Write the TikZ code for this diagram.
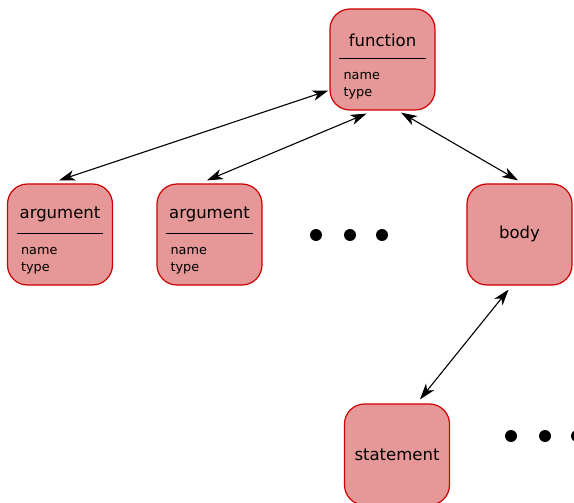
\documentclass[tikz,border=0pt]{standalone}
\usepackage{fontspec}
\setmainfont{DejaVu Sans}
\usetikzlibrary{arrows.meta,calc}
\definecolor{boxfill}{RGB}{229,152,151}
\definecolor{boxdraw}{RGB}{204,0,0}
\tikzset{
  umlbox/.style={draw=boxdraw, fill=boxfill, line width=1.2pt, rounded corners=20pt,
    minimum width=105pt, minimum height=101pt, inner sep=0pt},
  titletext/.style={font=\fontsize{16.5}{18}\selectfont, inner sep=0pt},
  attrtext/.style={font=\fontsize{12.8}{14}\selectfont, inner sep=0pt, anchor=west},
  biarrow/.style={{Stealth[length=16pt,width=10.5pt,inset=4.5pt]}-{Stealth[length=16pt,width=10.5pt,inset=4.5pt]}, line width=1.1pt, black},
  dot/.style={circle, fill=black, minimum size=12pt, inner sep=0pt}
}
\begin{document}
\begin{tikzpicture}[x=1pt,y=-1pt]
\useasboundingbox (0,0) rectangle (574,503);
\clip (0,0) rectangle (574,503);
% boxes
\node[umlbox] (fun) at (382.5,59.5) {};
\node[umlbox] (arga) at (60,234.5) {};
\node[umlbox] (argb) at (209.5,234.5) {};
\node[umlbox] (body) at (519.5,234.5) {};
\node[umlbox] (stmt) at (397,454.5) {};
% function
\node[titletext] (funtitle) at ($(fun.north)+(0,31.5)$) {function};
\draw[line width=1pt] ($(fun.north west)+(10,50)$) coordinate (funl1) -- ($(fun.north east)+(-10,50)$) coordinate (funl2);
\node[attrtext] (funname) at ($(fun.north west)+(14,67.5)$) {name};
\node[attrtext] (funtype) at ($(fun.north west)+(14,84.5)$) {type};
% argument 1
\node[titletext] (argatitle) at ($(arga.north)+(0,31.5)$) {argument};
\draw[line width=1pt] ($(arga.north west)+(10,50)$) coordinate (argal1) -- ($(arga.north east)+(-10,50)$) coordinate (argal2);
\node[attrtext] (arganame) at ($(arga.north west)+(14,67.5)$) {name};
\node[attrtext] (argatype) at ($(arga.north west)+(14,84.5)$) {type};
% argument 2
\node[titletext] (argbtitle) at ($(argb.north)+(0,31.5)$) {argument};
\draw[line width=1pt] ($(argb.north west)+(10,50)$) coordinate (argbl1) -- ($(argb.north east)+(-10,50)$) coordinate (argbl2);
\node[attrtext] (argbname) at ($(argb.north west)+(14,67.5)$) {name};
\node[attrtext] (argbtype) at ($(argb.north west)+(14,84.5)$) {type};
% body, statement
\node[titletext] (bodytitle) at ($(body.center)+(0,-1)$) {body};
\node[titletext] (stmttitle) at ($(stmt.north)+(0,51)$) {statement};
% dots
\node[dot] (d1) at (316,235) {};
\node[dot] (d2) at (350,235) {};
\node[dot] (d3) at (382,235) {};
\node[dot] (e1) at (511,436) {};
\node[dot] (e2) at (545,436) {};
\node[dot] (e3) at (577,436) {};
% connectors
\draw[biarrow] ($(arga.north)+(-1,-3)$) -- ($(fun.west)+(-1,31)$);
\draw[biarrow] ($(argb.north)+(-2.5,-3)$) -- ($(fun.south)+(-16,3)$);
\draw[biarrow] ($(fun.south)+(18.5,2)$) -- ($(body.north)+(-1.5,-3)$);
\draw[biarrow] ($(body.south)+(-11,4)$) -- ($(stmt.north)+(23,-4)$);
\end{tikzpicture}
\end{document}
